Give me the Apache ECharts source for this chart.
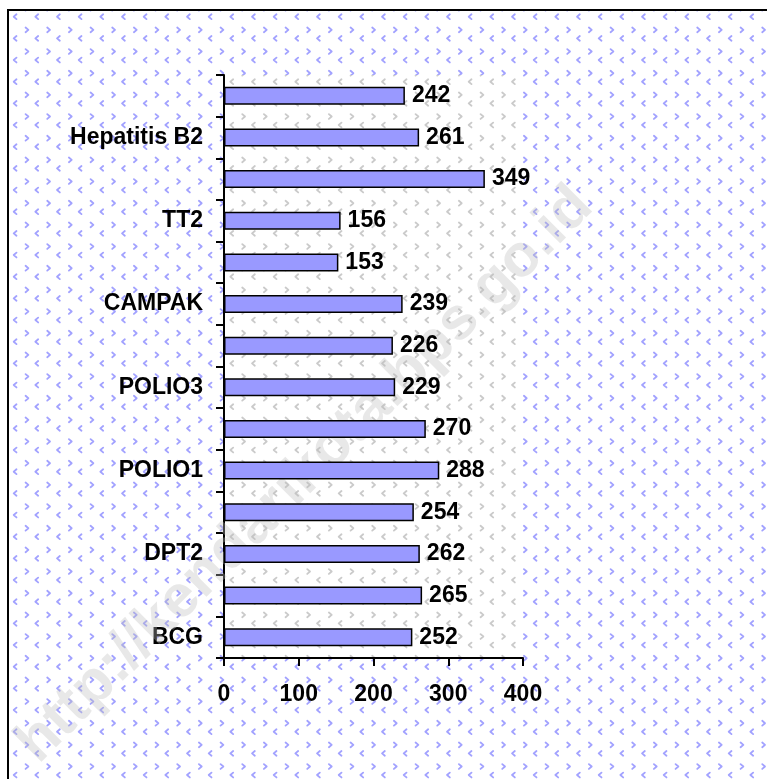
<!DOCTYPE html>
<html>
<head>
<meta charset="utf-8">
<script src="https://cdn.jsdelivr.net/npm/echarts@6/dist/echarts.min.js"></script>
<style>
html,body{margin:0;padding:0;background:#fff;}
#chart{width:767px;height:779px;}
</style>
</head>
<body>
<div id="chart"></div>
<script>
// Categories listed bottom to top
const categories = ['BCG','DPT1','DPT2','DPT3','POLIO1','POLIO2','POLIO3','POLIO4','CAMPAK','TT1','TT2','Hepatitis B1','Hepatitis B2','Hepatitis B3'];
const values = [252, 265, 262, 254, 288, 270, 229, 226, 239, 153, 156, 349, 261, 242];
const xTicks = [0, 100, 200, 300, 400];
const watermark = 'http://kendarikota.bps.go.id';

function makePattern(color) {
  const c = document.createElement('canvas');
  c.width = 65; c.height = 65;
  const ctx = c.getContext('2d');
  ctx.strokeStyle = color;
  ctx.lineWidth = 1.8;
  ctx.lineCap = 'round';
  ctx.lineJoin = 'round';
  const p = 65 / 3;
  for (let i = -1; i <= 3; i++) {
    for (let j = -1; j <= 3; j++) {
      const x = i * p, y = j * p;
      let cx = x + 15, cy = y + 16.7;
      ctx.beginPath();
      ctx.moveTo(cx + 1.5, cy - 2.4); ctx.lineTo(cx - 1.3, cy); ctx.lineTo(cx + 1.5, cy + 2.4);
      ctx.stroke();
      cx = x + 5.4; cy = y + 8.2;
      ctx.beginPath();
      ctx.moveTo(cx - 1.5, cy - 2.4); ctx.lineTo(cx + 1.3, cy); ctx.lineTo(cx - 1.5, cy + 2.4);
      ctx.stroke();
    }
  }
  return c;
}

const bluePat = { image: makePattern('rgba(105,105,255,0.62)'), repeat: 'repeat' };
const greyPat = { image: makePattern('rgba(150,150,150,0.5)'), repeat: 'repeat' };

const FONT = 'Arial, "Liberation Sans", sans-serif';
const GRID = { left: 224, right: 244, top: 75, bottom: 121 };
const chart = echarts.init(document.getElementById('chart'), null, { renderer: 'canvas' });
chart.setOption({
  animation: false,
  graphic: [
    { type: 'rect', z: -3, shape: { x: 0, y: 0, width: 767, height: 779 }, style: { fill: '#fff' } },
    { type: 'rect', z: -2, shape: { x: 8, y: 10, width: 800, height: 800 }, style: { fill: bluePat, stroke: '#000', lineWidth: 2 } },
    { type: 'rect', z: -1, shape: { x: GRID.left, y: GRID.top, width: 767 - GRID.left - GRID.right, height: 779 - GRID.top - GRID.bottom }, style: { fill: '#fff' } },
    { type: 'rect', z: -1, shape: { x: GRID.left, y: GRID.top, width: 767 - GRID.left - GRID.right, height: 779 - GRID.top - GRID.bottom }, style: { fill: greyPat } },
    { type: 'text', z: 1, x: 305, y: 475, rotation: Math.PI / 4,
      style: { text: watermark, fontSize: 60, fontWeight: 'bold', fontFamily: FONT, fill: 'rgba(190,190,190,0.35)', align: 'center', verticalAlign: 'middle' } }
  ],
  grid: Object.assign({ show: false }, GRID),
  xAxis: {
    type: 'value', min: xTicks[0], max: xTicks[xTicks.length - 1], interval: 100,
    axisLine: { show: true, lineStyle: { color: '#000', width: 2 } },
    axisTick: { show: true, length: 8, lineStyle: { color: '#000', width: 2 } },
    splitLine: { show: false },
    axisLabel: { margin: 25, color: '#000', fontSize: 23, fontWeight: 'bold', fontFamily: FONT }
  },
  yAxis: {
    type: 'category', data: categories,
    axisLine: { show: true, lineStyle: { color: '#000', width: 2 } },
    axisTick: { show: true, interval: 0, length: 8, lineStyle: { color: '#000', width: 2 } },
    axisLabel: { interval: 1, margin: 21, color: '#000', fontSize: 23, fontWeight: 'bold', fontFamily: FONT }
  },
  series: [{
    type: 'bar', data: values, barWidth: 18, z: 2,
    itemStyle: { color: '#9999FF', borderColor: '#000', borderWidth: 1.5 },
    label: { show: true, position: 'right', distance: 7, color: '#000', fontSize: 23, fontWeight: 'bold', fontFamily: FONT }
  }]
});
</script>
</body>
</html>
